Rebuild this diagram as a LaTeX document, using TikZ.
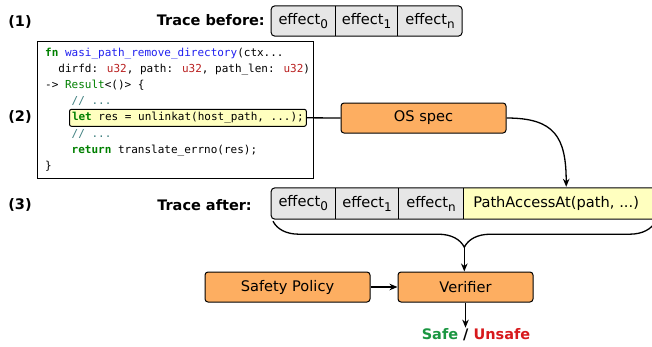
\documentclass[tikz,border=0pt]{standalone}
\usepackage{fontspec}
\setmainfont{DejaVu Sans}
\newfontfamily\codefont{DejaVu Sans Mono}
\usetikzlibrary{arrows.meta,backgrounds,calc,decorations.pathreplacing}
\definecolor{orangebox}{HTML}{FDAE61}
\definecolor{yellowbox}{HTML}{FFFFBF}
\definecolor{graybox}{HTML}{E6E6E6}
\definecolor{safegreen}{HTML}{1A9641}
\definecolor{unsafered}{HTML}{D7191C}
\definecolor{kwgreen}{HTML}{008000}
\definecolor{fnblue}{HTML}{2020F0}
\definecolor{typered}{HTML}{BA2121}
\definecolor{cmtteal}{HTML}{408080}
\newcommand{\effsub}[1]{\raisebox{-4pt}{\fontsize{12}{12}\selectfont #1}}
\newcommand{\kw}[1]{\textcolor{kwgreen}{\bfseries #1}}
\newcommand{\ty}[1]{\textcolor{typered}{#1}}
\begin{document}
\begin{tikzpicture}[x=1pt,y=-1pt,
  font=\fontsize{14.6}{16}\selectfont,
  lbl/.style={font=\fontsize{14.5}{16}\selectfont\bfseries, inner sep=0pt},
  cell/.style={minimum height=30pt, inner sep=0pt, anchor=west},
  procbox/.style={draw, line width=1pt, fill=orangebox, rounded corners=3pt, minimum height=30pt, inner sep=0pt},
  codeline/.style={font=\codefont\fontsize{11}{13}\selectfont, anchor=base west, inner sep=0pt},
  conn/.style={line width=1.3pt},
  arr/.style={line width=1.3pt, -{Stealth[length=8pt,width=6.5pt,inset=2.5pt]}},
]
\useasboundingbox (0,0) rectangle (652,346);

% labels
\node[lbl] (l1) at (20,22) {(1)};
\node[lbl] (l2) at (20,117) {(2)};
\node[lbl] (l3) at (20,205) {(3)};
\node[lbl, anchor=east] (tb) at (265,20) {Trace before:};
\node[lbl, anchor=east] (ta) at (252,205) {Trace after:};

% trace before
\node[cell, minimum width=64pt] (b0) at (271,21) {effect\effsub{0}};
\node[cell, minimum width=62pt] (b1) at (b0.east) {effect\effsub{1}};
\node[cell, minimum width=64pt] (bn) at (b1.east) {effect\effsub{n}};
\begin{scope}[on background layer]
  \fill[graybox, rounded corners=4pt] (b0.north west) rectangle (bn.south east);
\end{scope}
\draw[line width=1pt, rounded corners=4pt] (b0.north west) rectangle (bn.south east);
\draw[line width=1pt] (b0.north east) -- (b0.south east) (b1.north east) -- (b1.south east);

% code box
\node[draw, line width=1pt, fill=white, minimum width=276pt, minimum height=137pt, anchor=north west, inner sep=0pt] (code) at (37,41) {};
\node[codeline] (c1) at (45,56) {\kw{fn} \textcolor{fnblue}{wasi\_path\_remove\_directory}(ctx...};
\node[codeline] (c2) at (58.2,72.2) {dirfd: \ty{u32}, path: \ty{u32}, path\_len: \ty{u32})};
\node[codeline] (c3) at (45,88.4) {-> \textcolor{kwgreen}{Result}<()> \{};
\node[codeline] (c4) at (71.5,104.6) {\textcolor{cmtteal}{// ...}};
\node[codeline, draw, line width=1pt, fill=yellowbox, rounded corners=2pt, inner xsep=2.5pt, inner ysep=3pt, text height=8.5pt, text depth=2.5pt] (hl) at (69,120.8) {\kw{let} res = unlinkat(host\_path, ...);};
\node[codeline] (c6) at (71.5,137) {\textcolor{cmtteal}{// ...}};
\node[codeline] (c7) at (71.5,153.2) {\kw{return} translate\_errno(res);};
\node[codeline] (c8) at (45,169.4) {\}};

% OS spec
\node[procbox, minimum width=165pt] (os) at (423.5,118) {OS spec};
\draw[conn] (hl.east) -- (os.west);

% trace after
\node[cell, minimum width=64pt, minimum height=31pt] (a0) at (271,203.5) {effect\effsub{0}};
\node[cell, minimum width=63pt, minimum height=31pt] (a1) at (a0.east) {effect\effsub{1}};
\node[cell, minimum width=64pt, minimum height=31pt] (an) at (a1.east) {effect\effsub{n}};
\node[cell, minimum height=31pt, text width=174pt, inner xsep=10pt, align=left] (pa) at (an.east) {PathAccessAt(path, ...)};
\begin{scope}[on background layer]
  \clip[rounded corners=4pt] (a0.north west) rectangle (pa.south east);
  \fill[graybox] (a0.north west) rectangle (an.south east);
  \fill[yellowbox] (pa.north west) rectangle (pa.south east);
\end{scope}
\draw[line width=1pt, rounded corners=4pt] (a0.north west) rectangle (pa.south east);
\draw[line width=1pt] (a0.north east) -- (a0.south east) (a1.north east) -- (a1.south east) (an.north east) -- (an.south east);

\draw[arr] (os.east) .. controls +(48,0) and +(0,-50) .. ($(pa.north west)+(103,-1)$);

% brace
\draw[conn, decorate, decoration={brace, mirror, amplitude=26pt}] ($(a0.south west)+(2,2)$) -- ($(pa.south east)+(-2,2)$);
\coordinate (tip) at ($(a0.south west)!0.5!(pa.south east)+(0,28)$);

% verifier
\node[procbox, minimum width=165pt] (sp) at (287.5,287) {Safety Policy};
\node[procbox, minimum width=135pt] (ver) at (465.5,287) {Verifier};
\draw[arr] (tip) -- (tip |- ver.north);
\draw[arr] (sp.east) -- (ver.west);
\node[font=\fontsize{14.5}{16}\selectfont\bfseries, inner sep=1pt] (res) at (476,335) {\textcolor{safegreen}{Safe} / \textcolor{unsafered}{Unsafe}};
\draw[arr] (ver.south) -- (ver.south |- res.north);
\end{tikzpicture}
\end{document}
